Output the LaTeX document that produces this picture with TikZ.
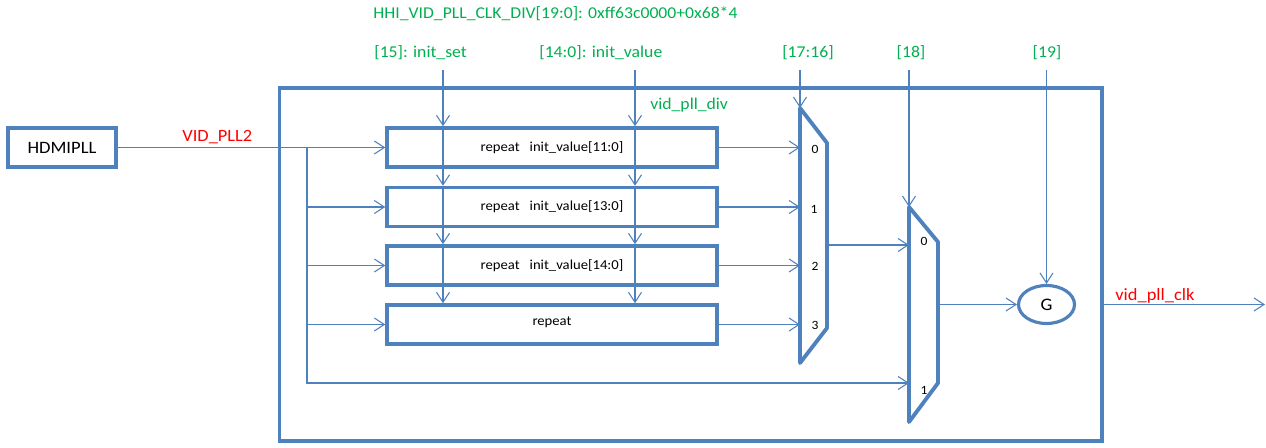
\documentclass[tikz,border=0pt]{standalone}
\usepackage{fontspec}
\setmainfont[FakeStretch=1.07]{Carlito}
\usetikzlibrary{positioning, arrows.meta, shapes.geometric}
\definecolor{vblue}{RGB}{79,129,189}
\definecolor{vgreen}{RGB}{0,176,80}
\definecolor{vred}{RGB}{255,0,0}
\tikzset{
    srcbox/.style={draw=vblue, line width=2pt, minimum width=2.16cm, minimum height=0.78cm, inner sep=0pt, font=\fontsize{9.9}{11}\selectfont},
    outerbox/.style={draw=vblue, line width=1.8pt, minimum width=16.46cm, minimum height=7.06cm, inner sep=0pt},
    repbox/.style={draw=vblue, line width=2pt, minimum width=6.6cm, minimum height=0.78cm, inner sep=0pt, font=\fontsize{7.8}{9}\selectfont},
    muxline/.style={draw=vblue, line width=2.2pt, line join=round},
    gatenode/.style={draw=vblue, ellipse, line width=1.8pt, minimum width=1.12cm, minimum height=0.76cm, inner sep=0pt, font=\fontsize{10}{11}\selectfont},
    sig/.style={draw=vblue, line width=0.6pt, -{Straight Barb[length=2mm, width=2.6mm]}},
    wire/.style={draw=vblue, line width=0.6pt},
    reglbl/.style={text=vgreen, inner sep=0pt, font=\fontsize{9.4}{11}\selectfont},
    netlbl/.style={text=vred, inner sep=0pt, font=\fontsize{9.8}{11}\selectfont},
    selnum/.style={inner sep=0pt, font=\fontsize{7.2}{8}\selectfont},
}

\begin{document}
\begin{tikzpicture}[x=0.02cm, y=-0.02cm]
        \useasboundingbox (0,0) rectangle (1266,448);
        \node[outerbox] (vidblk) at (690.5,264.5) {};
        \node[srcbox] (pll) at (62,147.5) {HDMIPLL};
        \node[repbox] (rep1) at (552,147.5) {repeat\ \ \ init\_value[11:0]};
        \node[repbox] (rep2) at (552,207)   {repeat\ \ \ init\_value[13:0]};
        \node[repbox] (rep3) at (552,265.5) {repeat\ \ \ init\_value[14:0]};
        \node[repbox] (rep4) at (552,324.5) {\raisebox{1.2mm}{repeat}};
        \node[gatenode] (gate) at (1046.5,304.5) {G};

        \node[reglbl, anchor=west] (regname) at (373,14) {HHI\_VID\_PLL\_CLK\_DIV[19:0]: 0xff63c0000+0x68*4};
        \node[reglbl, anchor=west] (lblset) at (374,53) {[15]: init\_set};
        \node[reglbl, anchor=west] (lblval) at (539,53) {[14:0]: init\_value};
        \node[reglbl] (lblsel1) at (808,53) {[17:16]};
        \node[reglbl] (lblsel2) at (911,53) {[18]};
        \node[reglbl] (lblgate) at (1047,53) {[19]};
        \node[reglbl, anchor=west] (lbldiv) at (650,105) {vid\_pll\_div};
        \node[netlbl, anchor=west] (lblpll) at (182,137) {VID\_PLL2};
        \node[netlbl, anchor=west] (lblclk) at (1115,296) {vid\_pll\_clk};

        \coordinate (setin) at (443,70);
        \coordinate (valin) at (635,70);
        \coordinate (sel1in) at (800,70);
        \coordinate (sel2in) at (909,70);
        \coordinate (gatein) at (1046.5,70);
        \coordinate (tap) at (307,147.5);
        \coordinate (mux1top) at (800,108);
        \coordinate (mux1out) at (827,245);
        \coordinate (mux2top) at (909,207);
        \coordinate (mux2in1) at (909,383);
        \coordinate (mux2out) at (938,304.5);
        \coordinate (clkout) at (1265,304.5);

        \draw[muxline] (mux1top) -- (827,143) -- (827,328) -- (800,363) -- cycle;
        \draw[muxline] (mux2top) -- (938,242) -- (938,383) -- (909,422) -- cycle;
        \node[selnum] (m1s0) at (815,149) {0};
        \node[selnum] (m1s1) at (814,209) {1};
        \node[selnum] (m1s2) at (815,266) {2};
        \node[selnum] (m1s3) at (815,325) {3};
        \node[selnum] (m2s0) at (924,241) {0};
        \node[selnum] (m2s1) at (924,390) {1};

        \draw[sig] (pll.east) -- (rep1.west);
        \foreach \b in {rep2,rep3,rep4}
            \draw[sig] (tap |- \b.west) -- (\b.west);
        \draw[sig] (tap) |- (mux2in1);
        \draw[sig] (setin) -- (setin |- rep1.north);
        \draw[sig] (valin) -- (valin |- rep1.north);
        \foreach \a/\b in {rep1/rep2, rep2/rep3, rep3/rep4} {
            \draw[sig] (setin |- \a.north) -- (setin |- \b.north);
            \draw[sig] (valin |- \a.north) -- (valin |- \b.north);
        }
        \foreach \b in {rep1,rep2,rep3,rep4}
            \draw[sig] (\b.east) -- (\b.east -| mux1top);
        \draw[sig] (sel1in) -- (mux1top);
        \draw[sig] (mux1out) -- (mux1out -| mux2top);
        \draw[sig] (sel2in) -- (mux2top);
        \draw[sig] (mux2out) -- (gate.west);
        \draw[sig] (gatein) -- (gate.north);
        \draw[sig] (vidblk.east |- clkout) -- (clkout);
    \end{tikzpicture}
\end{document}
